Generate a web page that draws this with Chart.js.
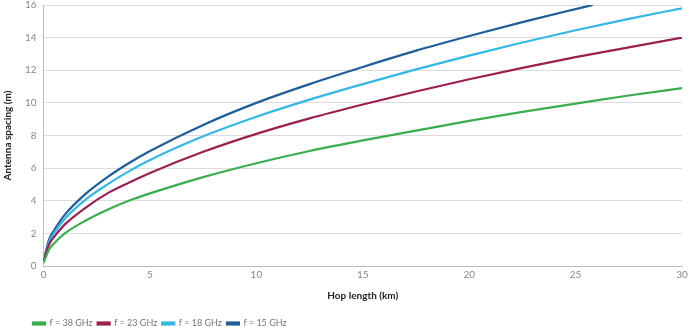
<!DOCTYPE html>
<html>
<head>
<meta charset="utf-8">
<script src="https://cdn.jsdelivr.net/npm/chart.js@4"></script>
<style>
    html, body { margin: 0; padding: 0; background: #fff; }
    #wrap { width: 688px; height: 327px; }
</style>
</head>
<body>
<div id="wrap"><canvas id="hopChart"></canvas></div>
<script>
// Hop length (km) sample points
const hopKm = [0, 0.25, 0.5, 1, 2, 3, 4, 5, 7.5, 10, 12.5, 15, 17.5, 20, 22.5, 25, 27.5, 30];
const hopKm15 = [0, 0.25, 0.5, 1, 2, 3, 4, 5, 7.5, 10, 12.5, 15, 17.5, 20, 22.5, 25, 25.8];

// Antenna spacing (m) per frequency
const spacing38 = [0.2, 1.0, 1.4, 2.0, 2.8, 3.45, 4.0, 4.45, 5.45, 6.3, 7.05, 7.7, 8.3, 8.9, 9.45, 9.95, 10.45, 10.9];
const spacing23 = [0.3, 1.3, 1.8, 2.55, 3.6, 4.45, 5.1, 5.7, 7.0, 8.1, 9.05, 9.9, 10.7, 11.45, 12.15, 12.8, 13.4, 14.0];
const spacing18 = [0.3, 1.45, 2.05, 2.9, 4.1, 5.0, 5.8, 6.5, 7.95, 9.15, 10.2, 11.15, 12.05, 12.9, 13.7, 14.45, 15.15, 15.8];
const spacing15 = [0.3, 1.6, 2.2, 3.15, 4.45, 5.45, 6.3, 7.05, 8.65, 10.0, 11.15, 12.2, 13.2, 14.1, 14.95, 15.75, 16.0];

const seriesLabels = ["f = 38 GHz", "f = 23 GHz", "f = 18 GHz", "f = 15 GHz"];
const seriesColors = ["#3aae4f", "#9c1f4e", "#33b7e6", "#1f5e98"];

function toPoints(xs, ys) {
    return xs.map((x, i) => ({ x: x, y: ys[i] }));
}

const allData = [
    toPoints(hopKm, spacing38),
    toPoints(hopKm, spacing23),
    toPoints(hopKm, spacing18),
    toPoints(hopKm15, spacing15)
];

const fontFamily = "Lato, 'Open Sans', sans-serif";

// nudge the legend in line with the plot's left edge
const legendShift = {
    id: "legendShift",
    afterLayout(chart) {
        if (chart.legend) {
            chart.legend.left += 26;
            chart.legend.right += 26;
        }
    }
};

new Chart(document.getElementById("hopChart"), {
    type: "line",
    data: {
        datasets: seriesLabels.map((label, i) => ({
            label: label,
            data: allData[i],
            borderColor: seriesColors[i],
            backgroundColor: seriesColors[i],
            borderWidth: 2.2,
            pointRadius: 0,
            cubicInterpolationMode: "monotone",
            fill: false
        }))
    },
    options: {
        responsive: true,
        maintainAspectRatio: false,
        animation: false,
        layout: { padding: { left: 2, right: 6, top: 5, bottom: -11 } },
        plugins: {
            legend: {
                position: "bottom",
                align: "start",
                labels: {
                    boxWidth: 12,
                    boxHeight: 2,
                    padding: 5,
                    color: "#777",
                    font: { family: fontFamily, size: 9 }
                }
            },
            tooltip: { enabled: false }
        },
        scales: {
            x: {
                type: "linear",
                min: 0,
                max: 30,
                afterFit(scale) {
                    scale.paddingRight = 0;
                },
                ticks: {
                    stepSize: 5,
                    color: "#888",
                    font: { family: fontFamily, size: 10 },
                    maxRotation: 0
                },
                grid: { display: false, drawTicks: false },
                border: { display: true, color: "#bbb" },
                title: {
                    display: true,
                    text: "Hop length (km)",
                    color: "#222",
                    font: { family: fontFamily, size: 10, weight: "bold" },
                    padding: { top: 6, bottom: 12 }
                }
            },
            y: {
                min: 0,
                max: 16,
                afterFit(scale) {
                    scale.paddingTop = 0;
                },
                ticks: {
                    stepSize: 2,
                    color: "#888",
                    padding: 7,
                    font: { family: fontFamily, size: 10 }
                },
                grid: { color: "#dcdcdc", drawTicks: false },
                border: { display: true, color: "#bbb" },
                title: {
                    display: true,
                    text: "Antenna spacing (m)",
                    color: "#222",
                    font: { family: fontFamily, size: 10, weight: "bold" },
                    padding: { top: 0, bottom: 4 }
                }
            }
        }
    },
    plugins: [legendShift]
});
</script>
</body>
</html>
